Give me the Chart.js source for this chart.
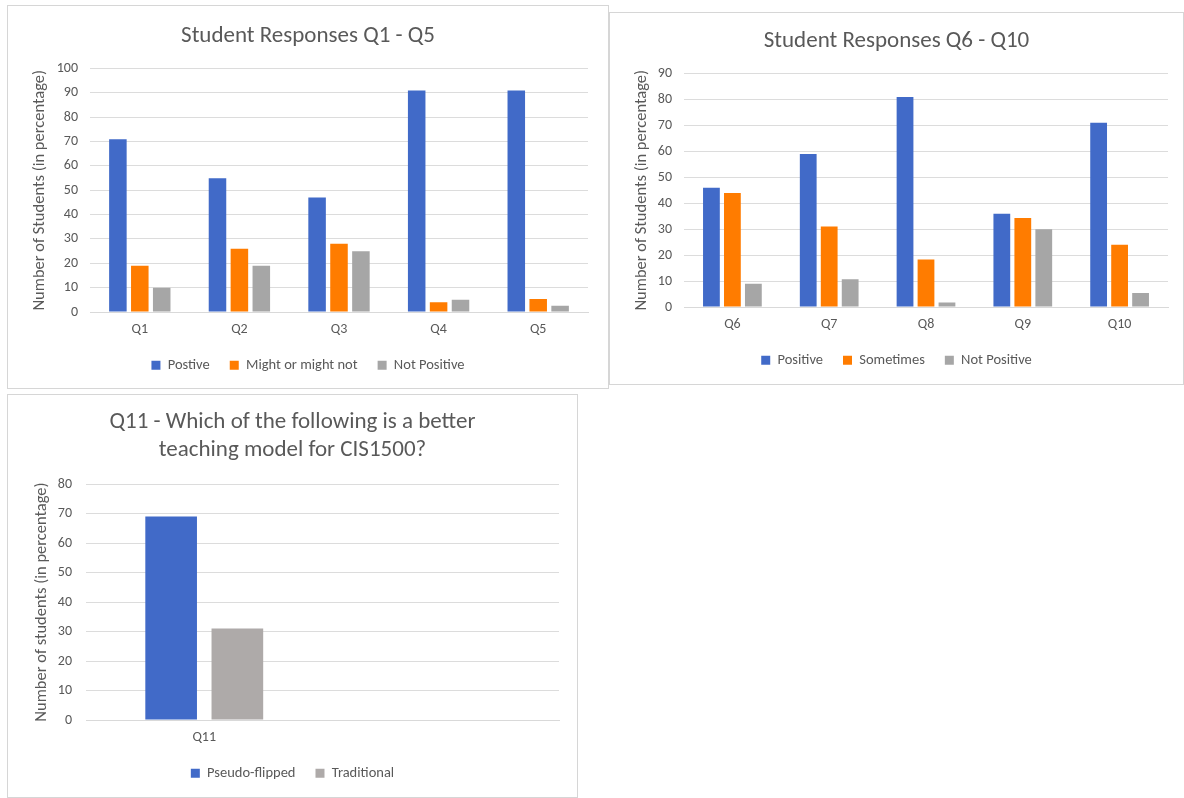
<!DOCTYPE html>
<html>
<head>
<meta charset="utf-8">
<script src="https://cdn.jsdelivr.net/npm/chart.js@4.4.1/dist/chart.umd.min.js"></script>
<style>
    body { margin: 0; background: #fff; width: 1184px; height: 798px; position: relative; overflow: hidden; }
    .panel { position: absolute; outline: 1px solid #d6d6d6; background: #fff; }
    .panel canvas { position: absolute; left: 0; top: 0; }
</style>
</head>
<body>
<div class="panel" style="left:8px; top:6px; width:600px; height:382px;"><canvas id="chart1"></canvas></div>
<div class="panel" style="left:610px; top:13px; width:573px; height:371px;"><canvas id="chart2"></canvas></div>
<div class="panel" style="left:8px; top:395px; width:569px; height:402px;"><canvas id="chart3"></canvas></div>
<script>
// chart 1 data
var labels1 = ['Q1', 'Q2', 'Q3', 'Q4', 'Q5'];
var positive1 = [71, 55, 47, 91, 91];
var mightOrMightNot1 = [19, 26, 28, 4, 5.3];
var notPositive1 = [10, 19, 25, 5, 2.6];

// chart 2 data
var labels2 = ['Q6', 'Q7', 'Q8', 'Q9', 'Q10'];
var positive2 = [46, 59, 81, 36, 71];
var sometimes2 = [44, 31, 18.3, 34.3, 24];
var notPositive2 = [9, 10.7, 1.7, 30, 5.4];

// chart 3 data (second category is empty, like the Excel sheet)
var labels3 = ['Q11', ''];
var pseudoFlipped3 = [69, null];
var traditional3 = [31, null];

var BLUE = '#416AC8';
var ORANGE = '#FF7C00';
var GRAY = '#A6A6A6';
var WARM_GRAY = '#AEAAA9';
var TEXT = '#595959';
var FONT = "Carlito, Lato, 'Liberation Sans', sans-serif";

Chart.defaults.font.family = FONT;
Chart.defaults.color = TEXT;
Chart.defaults.animation = false;

// keeps the legend box at a fixed height so the item gap and the vertical spot are independent
var fixedLegend = {
    id: 'fixedLegend',
    beforeLayout: function (chart, args, opts) {
        var lg = chart.legend;
        if (lg && !lg._fixed) {
            lg._fixed = true;
            var fit = lg.fit;
            lg.fit = function () {
                fit.call(this);
                this.height = opts.height;
            };
        }
    }
};

function makeChart(id, w, h, cfg) {
    var canvas = document.getElementById(id);
    canvas.width = w;
    canvas.height = h;
    canvas.style.width = w + 'px';
    canvas.style.height = h + 'px';
    return new Chart(canvas.getContext('2d'), {
        type: 'bar',
        data: {
            labels: cfg.labels,
            datasets: cfg.datasets
        },
        plugins: [fixedLegend],
        options: {
            responsive: false,
            devicePixelRatio: 1,
            layout: { padding: { left: cfg.side, right: cfg.side, top: 0, bottom: 0 } },
            plugins: {
                fixedLegend: { height: cfg.legendHeight },
                title: {
                    display: true,
                    text: cfg.title,
                    color: TEXT,
                    font: { size: 23, weight: 'normal', lineHeight: cfg.titleLineHeight },
                    padding: cfg.titlePadding
                },
                legend: {
                    position: 'bottom',
                    labels: {
                        boxWidth: 9,
                        boxHeight: 9,
                        padding: 20,
                        color: TEXT,
                        font: { size: 14.5 }
                    }
                },
                tooltip: { enabled: false }
            },
            scales: {
                x: {
                    grid: { display: false, drawTicks: false },
                    border: { display: true, color: '#d9d9d9' },
                    ticks: { font: { size: 14 }, padding: 9, color: TEXT },
                    afterFit: function (s) { s.height = 26; }
                },
                y: {
                    min: 0,
                    max: cfg.yMax,
                    ticks: { stepSize: 10, font: { size: 14 }, padding: cfg.yTickPadding, color: TEXT },
                    grid: { color: '#dcdcdc', drawTicks: false },
                    border: { display: false },
                    title: {
                        display: true,
                        text: cfg.yTitle,
                        color: TEXT,
                        font: { size: 16.5 },
                        padding: { top: cfg.yTitleTop, bottom: 0 }
                    },
                    afterFit: function (s) { s.width = cfg.yAxisWidth; }
                }
            }
        }
    });
}

function bars(label, data, color, cp, bp) {
    return {
        label: label,
        data: data,
        backgroundColor: color,
        borderWidth: 0,
        categoryPercentage: cp,
        barPercentage: bp
    };
}

makeChart('chart1', 600, 382, {
    labels: labels1,
    datasets: [
        bars('Postive', positive1, BLUE, 0.66, 0.8),
        bars('Might or might not', mightOrMightNot1, ORANGE, 0.66, 0.8),
        bars('Not Positive', notPositive1, GRAY, 0.66, 0.8)
    ],
    title: 'Student Responses Q1 - Q5',
    titleLineHeight: 1.2,
    titlePadding: { top: 16, bottom: 19 },
    side: 20,
    legendHeight: 50,
    yMax: 100,
    yTickPadding: 12,
    yAxisWidth: 62,
    yTitle: 'Number of Students (in percentage)',
    yTitleTop: 2
});

makeChart('chart2', 573, 371, {
    labels: labels2,
    datasets: [
        bars('Positive', positive2, BLUE, 0.65, 0.8),
        bars('Sometimes', sometimes2, ORANGE, 0.65, 0.8),
        bars('Not Positive', notPositive2, GRAY, 0.65, 0.8)
    ],
    title: 'Student Responses Q6 - Q10',
    titleLineHeight: 1.2,
    titlePadding: { top: 14, bottom: 19 },
    side: 15,
    legendHeight: 51,
    yMax: 90,
    yTickPadding: 12,
    yAxisWidth: 59,
    yTitle: 'Number of Students (in percentage)',
    yTitleTop: 7
});

makeChart('chart3', 569, 402, {
    labels: labels3,
    datasets: [
        bars('Pseudo-flipped', pseudoFlipped3, BLUE, 0.56, 0.78),
        bars('Traditional', traditional3, WARM_GRAY, 0.56, 0.78)
    ],
    title: ['Q11 - Which of the following is a better', 'teaching model for CIS1500?'],
    titleLineHeight: 1.22,
    titlePadding: { top: 13, bottom: 20 },
    side: 18,
    legendHeight: 51,
    yMax: 80,
    yTickPadding: 14,
    yAxisWidth: 60,
    yTitle: 'Number of students (in percentage)',
    yTitleTop: 6
});
</script>
</body>
</html>
